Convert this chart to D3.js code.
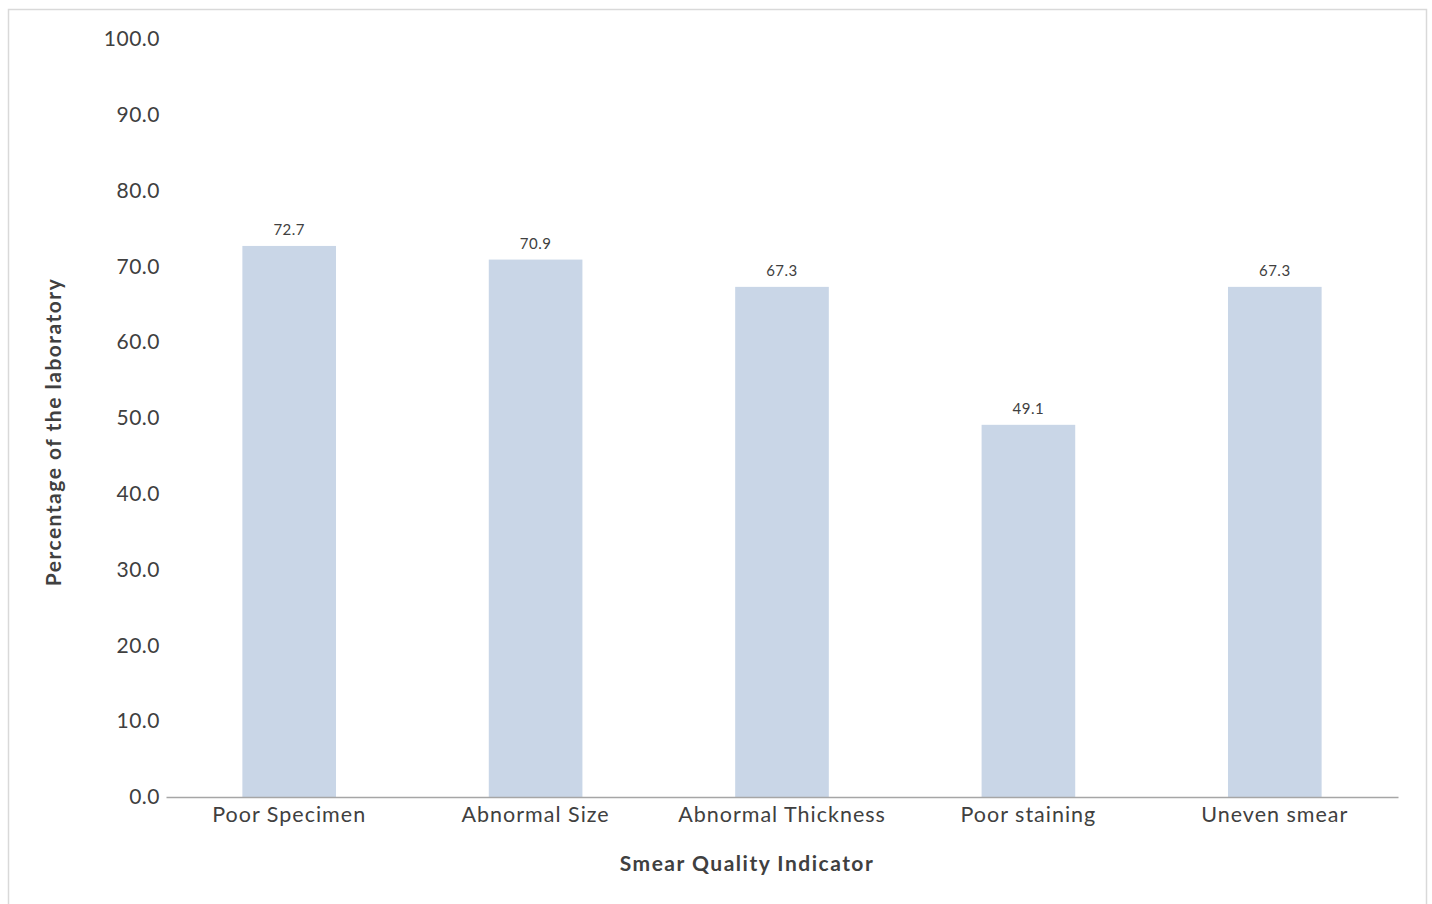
<!DOCTYPE html>
<html><head><meta charset="utf-8">
<script src="https://cdn.jsdelivr.net/npm/d3@7"></script>
<style>
html,body{margin:0;padding:0;background:#fff;}
svg{display:block;font-family:Lato,"Open Sans",sans-serif;}
</style></head>
<body>
<svg id="chart" width="1432" height="904"></svg>
<script>
const categories = ["Poor Specimen","Abnormal Size","Abnormal Thickness","Poor staining","Uneven smear"];
const values = [72.7, 70.9, 67.3, 49.1, 67.3];
const yTicks = [0,10,20,30,40,50,60,70,80,90,100];

(function(){
const svg = d3.select("#chart");
svg.append("rect").attr("x",8.5).attr("y",9.5).attr("width",1418).attr("height",900)
  .attr("fill","#fff").attr("stroke","#d9d9d9").attr("stroke-width",1.5);

const pLeft=166, pRight=1398, pTop=39, pBottom=797;
const x = d3.scaleBand().domain(categories).range([pLeft,pRight]).paddingInner(0.62).paddingOuter(0.31);
const y = d3.scaleLinear().domain([0,100]).range([pBottom,pTop]);

svg.append("g").selectAll("rect").data(values).join("rect")
  .attr("x",(d,i)=>x(categories[i])).attr("width",x.bandwidth())
  .attr("y",d=>y(d)).attr("height",d=>y(0)-y(d)).attr("fill","#c9d6e7");

svg.append("g").selectAll("text").data(values).join("text")
  .attr("x",(d,i)=>x(categories[i])+x.bandwidth()/2).attr("y",d=>y(d)-11)
  .attr("text-anchor","middle").attr("font-size",15).attr("fill","#404040")
  .attr("letter-spacing",0.5)
  .text(d=>d.toFixed(1));

const yAxis = svg.append("g").attr("transform",`translate(${pLeft},0)`)
  .call(d3.axisLeft(y).tickValues(yTicks).tickSize(0).tickPadding(6).tickFormat(d3.format(".1f")));
yAxis.select(".domain").remove();
yAxis.selectAll("text").attr("font-size",21).attr("fill","#404040").attr("font-family","Lato,sans-serif")
  .attr("letter-spacing",0.5);

const xAxis = svg.append("g").attr("transform",`translate(0,${pBottom})`)
  .call(d3.axisBottom(x).tickSize(0).tickPadding(10).tickSizeOuter(0));
xAxis.select(".domain").attr("stroke","#a6a6a6").attr("stroke-width",1.5);
xAxis.selectAll("text").attr("font-size",21.5).attr("fill","#404040").attr("font-family","Lato,sans-serif")
  .attr("letter-spacing",1);

svg.append("text").attr("x",747).attr("y",871).attr("text-anchor","middle")
  .attr("font-size",21).attr("font-weight","bold").attr("fill","#404040").attr("letter-spacing",1.5)
  .text("Smear Quality Indicator");
svg.append("text").attr("transform","translate(61,432) rotate(-90)").attr("text-anchor","middle")
  .attr("font-size",21).attr("font-weight","bold").attr("fill","#404040").attr("letter-spacing",1.5)
  .text("Percentage of the laboratory");
})();
</script>
</body></html>
